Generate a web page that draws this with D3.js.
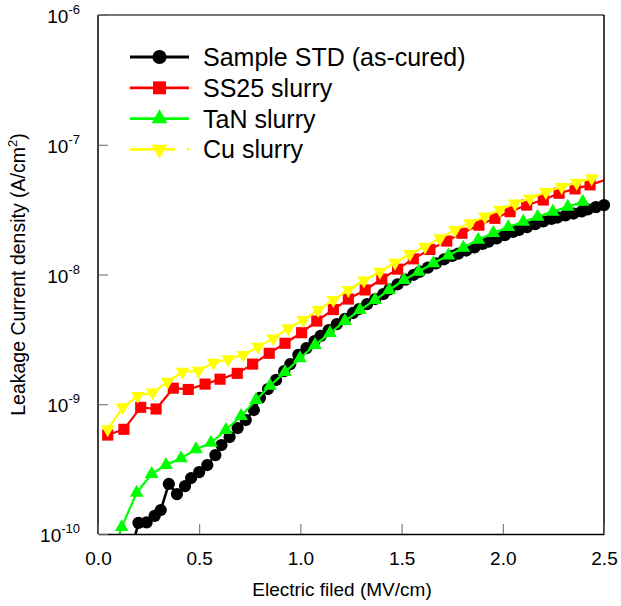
<!DOCTYPE html>
<html>
<head>
<meta charset="utf-8">
<script src="https://cdn.jsdelivr.net/npm/d3@7"></script>
<style>
	body { margin: 0; background: #fff; }
	text { font-family: "Liberation Sans", Arial, sans-serif; fill: #000; }
</style>
</head>
<body>
<div class="chart"></div>
<script>
// series values (field in MV/cm, current density in A/cm2)
let fieldStd = [0.16, 0.20, 0.24, 0.28, 0.31, 0.35, 0.39, 0.43, 0.46, 0.50, 0.54, 0.58, 0.61, 0.65, 0.69, 0.73, 0.77, 0.80, 0.84, 0.88,
	0.92, 0.95, 0.99, 1.03, 1.07, 1.10, 1.14, 1.18, 1.22, 1.26, 1.29, 1.33, 1.37, 1.41, 1.44, 1.48, 1.52, 1.56, 1.59, 1.63,
	1.67, 1.71, 1.75, 1.78, 1.82, 1.86, 1.90, 1.93, 1.97, 2.01, 2.05, 2.08, 2.12, 2.16, 2.20, 2.24, 2.27, 2.31, 2.35, 2.39,
	2.42, 2.46, 2.50];
let jStd = [7.0e-11, 1.22e-10, 1.23e-10, 1.38e-10, 1.53e-10, 2.43e-10, 2.03e-10, 2.34e-10, 2.70e-10, 3.0e-10, 3.40e-10, 4.06e-10, 4.85e-10, 5.59e-10, 6.56e-10, 7.56e-10, 9.03e-10, 1.12e-9, 1.31e-9, 1.54e-9,
	1.80e-9, 2.04e-9, 2.40e-9, 2.71e-9, 3.07e-9, 3.36e-9, 3.73e-9, 4.15e-9, 4.54e-9, 5.05e-9, 5.42e-9, 5.92e-9, 6.47e-9, 7.07e-9, 7.69e-9, 8.39e-9, 9.13e-9, 9.95e-9, 1.05e-8, 1.13e-8,
	1.22e-8, 1.31e-8, 1.39e-8, 1.45e-8, 1.53e-8, 1.62e-8, 1.72e-8, 1.79e-8, 1.90e-8, 2.01e-8, 2.13e-8, 2.21e-8, 2.32e-8, 2.44e-8, 2.57e-8, 2.68e-8, 2.75e-8, 2.85e-8, 2.95e-8, 3.06e-8,
	3.17e-8, 3.31e-8, 3.43e-8];

let fieldSS25 = [0.048, 0.128, 0.211, 0.287, 0.372, 0.446, 0.529, 0.603, 0.688, 0.764, 0.846, 0.924, 1.006, 1.081, 1.163, 1.237,
	1.320, 1.402, 1.480, 1.558, 1.640, 1.723, 1.798, 1.882, 1.961, 2.036, 2.118, 2.200, 2.278, 2.357, 2.431, 2.510];
let jSS25 = [5.79e-10, 6.41e-10, 9.47e-10, 9.19e-10, 1.33e-9, 1.30e-9, 1.43e-9, 1.56e-9, 1.73e-9, 2.04e-9, 2.47e-9, 2.95e-9, 3.56e-9, 4.38e-9, 5.37e-9, 6.47e-9,
	7.60e-9, 9.23e-9, 1.10e-8, 1.32e-8, 1.56e-8, 1.81e-8, 2.08e-8, 2.40e-8, 2.71e-8, 3.05e-8, 3.43e-8, 3.75e-8, 4.23e-8, 4.57e-8, 4.91e-8, 5.37e-8];

let fieldTaN = [0.045, 0.117, 0.191, 0.265, 0.336, 0.410, 0.484, 0.558, 0.632, 0.707, 0.781, 0.850, 0.924, 0.998, 1.072, 1.146, 1.220,
	1.294, 1.369, 1.438, 1.512, 1.584, 1.657, 1.731, 1.805, 1.879, 1.953, 2.027, 2.101, 2.172, 2.247, 2.321, 2.395];
let jTaN = [5.0e-11, 1.13e-10, 2.08e-10, 2.90e-10, 3.40e-10, 3.83e-10, 4.50e-10, 5.05e-10, 6.33e-10, 8.12e-10, 1.08e-9, 1.39e-9, 1.77e-9, 2.26e-9, 2.86e-9, 3.54e-9, 4.38e-9,
	5.32e-9, 6.36e-9, 7.60e-9, 9.07e-9, 1.05e-8, 1.22e-8, 1.40e-8, 1.61e-8, 1.85e-8, 2.09e-8, 2.32e-8, 2.55e-8, 2.79e-8, 3.05e-8, 3.33e-8, 3.64e-8];

let fieldCu = [0.048, 0.122, 0.196, 0.270, 0.344, 0.418, 0.496, 0.570, 0.644, 0.718, 0.792, 0.866, 0.940, 1.014, 1.088, 1.163, 1.237,
	1.314, 1.393, 1.467, 1.541, 1.616, 1.690, 1.764, 1.838, 1.912, 1.986, 2.060, 2.134, 2.213, 2.291, 2.365, 2.439];
let jCu = [6.41e-10, 9.47e-10, 1.16e-9, 1.23e-9, 1.49e-9, 1.78e-9, 1.81e-9, 2.09e-9, 2.22e-9, 2.40e-9, 2.78e-9, 3.22e-9, 3.85e-9, 4.46e-9, 5.33e-9, 6.36e-9, 7.60e-9,
	8.99e-9, 1.05e-8, 1.23e-8, 1.44e-8, 1.64e-8, 1.90e-8, 2.20e-8, 2.48e-8, 2.80e-8, 3.15e-8, 3.52e-8, 3.86e-8, 4.32e-8, 4.72e-8, 5.10e-8, 5.51e-8];

let seriesNames = ["Sample STD (as-cured)", "SS25 slurry", "TaN slurry", "Cu slurry"];
let xTicks = [0, 0.5, 1.0, 1.5, 2.0, 2.5];
let yTickExps = [-10, -9, -8, -7, -6];

let svgWidth = 621;
let svgHeight = 606;

let margin = { top: 15, right: 17, bottom: 72, left: 98 };
let chartWidth = svgWidth - margin.left - margin.right;
let chartHeight = svgHeight - margin.top - margin.bottom;

let svg = d3.select(".chart")
	.append("svg")
	.attr("width", svgWidth)
	.attr("height", svgHeight);

let chart = svg.append("g")
	.attr("transform", `translate(${margin.left}, ${margin.top})`);

let x = d3.scaleLinear().domain([0, 2.5]).range([0, chartWidth]);
let y = d3.scaleLog().domain([1e-10, 1e-6]).range([chartHeight, 0]);

svg.append("defs").append("clipPath")
	.attr("id", "plotClip")
	.append("rect")
	.attr("width", chartWidth)
	.attr("height", chartHeight);

let series = [
	{ name: seriesNames[0], xs: fieldStd, ys: jStd, color: "#000000", width: 2.6, shape: "circle" },
	{ name: seriesNames[1], xs: fieldSS25, ys: jSS25, color: "#ff0000", width: 2.2, shape: "square" },
	{ name: seriesNames[2], xs: fieldTaN, ys: jTaN, color: "#00ff00", width: 2.2, shape: "up" },
	{ name: seriesNames[3], xs: fieldCu, ys: jCu, color: "#ffff00", width: 2.2, shape: "down" }
];

function symbolPath(shape, scale) {
	let s = scale || 1;
	if (shape == "circle") return d3.symbol().type(d3.symbolCircle).size(118 * s)();
	if (shape == "square") return d3.symbol().type(d3.symbolSquare).size(124 * s)();
	return d3.symbol().type(d3.symbolTriangle).size(82 * s)();
}

let line = d3.line()
	.x(d => x(d[0]))
	.y(d => y(d[1]));

series.forEach(function(s) {
	let pts = s.xs.map((v, i) => [v, s.ys[i]]);
	let g = chart.append("g");

	g.append("path")
		.attr("clip-path", "url(#plotClip)")
		.attr("d", line(pts))
		.attr("fill", "none")
		.attr("stroke", s.color)
		.attr("stroke-width", s.width)
		.attr("stroke-linejoin", "round");

	// markers only for points inside the axis range
	g.selectAll("path.mark")
		.data(pts.filter(p => p[1] >= 1e-10 && p[0] <= 2.5))
		.enter().append("path")
		.attr("class", "mark")
		.attr("d", symbolPath(s.shape))
		.attr("transform", p => `translate(${x(p[0])}, ${y(p[1])})` + (s.shape == "down" ? " rotate(180)" : ""))
		.attr("fill", s.color);
});

// frame
chart.append("line").attr("x1", 0).attr("x2", chartWidth).attr("y1", 0).attr("y2", 0)
	.attr("stroke", "#777").attr("stroke-width", 2);
chart.append("line").attr("x1", 0).attr("x2", 0).attr("y1", 0).attr("y2", chartHeight)
	.attr("stroke", "#000").attr("stroke-width", 1.5);
chart.append("line").attr("x1", chartWidth).attr("x2", chartWidth).attr("y1", 0).attr("y2", chartHeight)
	.attr("stroke", "#000").attr("stroke-width", 1.5);

// x axis, ticks pointing inward
let bottomAxis = d3.axisBottom(x)
	.tickValues(xTicks)
	.tickSizeInner(-10)
	.tickSizeOuter(0)
	.tickPadding(18)
	.tickFormat(d3.format(".1f"));

let xAxis = chart.append("g")
	.attr("transform", `translate(0, ${chartHeight})`)
	.call(bottomAxis);
xAxis.select(".domain").attr("stroke", "#000").attr("stroke-width", 1.5);
xAxis.selectAll(".tick line").attr("stroke", "#666");
xAxis.selectAll(".tick text")
	.attr("font-size", "19px")
	.attr("font-family", "'Liberation Sans', Arial, sans-serif")
	.attr("fill", "#000");

// y axis, power-of-ten labels with superscripts
let yTickVals = yTickExps.map(e => Math.pow(10, e));
let leftAxis = d3.axisLeft(y)
	.tickValues(yTickVals)
	.tickSizeInner(-10)
	.tickSizeOuter(0)
	.tickFormat("");

let yAxis = chart.append("g").call(leftAxis);
yAxis.select(".domain").remove();
yAxis.selectAll(".tick line").attr("stroke", "#666");

yTickExps.forEach(function(e) {
	let t = chart.append("text")
		.attr("x", -18)
		.attr("y", y(Math.pow(10, e)) + 8)
		.attr("text-anchor", "end")
		.attr("font-size", "19px");
	t.append("tspan").text("10");
	t.append("tspan").attr("dy", -9).attr("font-size", "13px").text(e);
});

// axis titles
svg.append("text")
	.attr("x", 342)
	.attr("y", 596)
	.attr("text-anchor", "middle")
	.attr("font-size", "19px")
	.text("Electric filed (MV/cm)");

let yTitle = svg.append("text")
	.attr("transform", `translate(25, ${margin.top + chartHeight / 2}) rotate(-90)`)
	.attr("text-anchor", "middle")
	.attr("font-size", "19.5px");
yTitle.append("tspan").text("Leakage Current density (A/cm");
yTitle.append("tspan").attr("dy", -8).attr("font-size", "13px").text("2");
yTitle.append("tspan").attr("dy", 8).text(")");

// legend
let legend = svg.append("g");
series.forEach(function(s, i) {
	let ly = 57 + i * 30.8;
	let row = legend.append("g");
	row.append("line")
		.attr("x1", 130).attr("x2", 189)
		.attr("y1", ly).attr("y2", ly)
		.attr("stroke", s.color)
		.attr("stroke-width", i == 0 ? 3.2 : 2.8)
		.attr("stroke-dasharray", s.shape == "down" ? "45,12,2,2" : null);
	row.append("path")
		.attr("d", symbolPath(s.shape, 1.35))
		.attr("transform", `translate(159.5, ${ly})` + (s.shape == "down" ? " rotate(180)" : ""))
		.attr("fill", s.color);
	row.append("text")
		.attr("x", 203)
		.attr("y", ly + 9)
		.attr("font-size", "25px")
		.text(s.name);
});
</script>
</body>
</html>
